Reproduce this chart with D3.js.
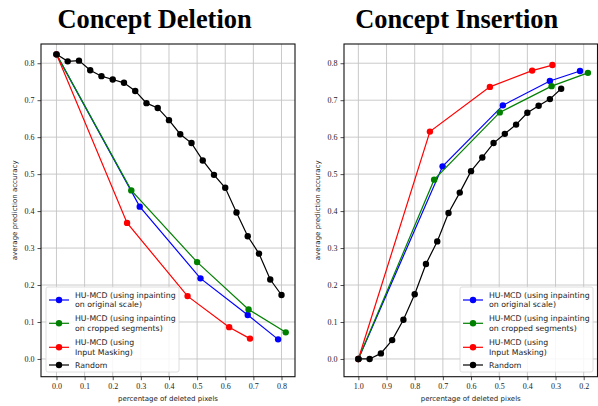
<!DOCTYPE html>
<html>
<head>
<meta charset="utf-8">
<script src="https://cdn.jsdelivr.net/npm/d3@7"></script>
<style>
  body { margin: 0; background: #fff; }
  svg { display: block; }
  .tick text { font-family: "Liberation Serif", "DejaVu Serif", serif; font-size: 8px; fill: #222; }
  .lbl { font-family: "DejaVu Sans", sans-serif; font-size: 7px; fill: #222; }
  .leg { font-family: "DejaVu Sans", sans-serif; font-size: 7.8px; fill: #222; }
  .title { font-family: "Liberation Serif", "Times New Roman", serif; font-weight: bold; font-size: 26.4px; fill: #000; }
</style>
</head>
<body>
<script>
// ---- data ----
var seriesNames = ["HU-MCD (using inpainting|on original scale)",
                   "HU-MCD (using inpainting|on cropped segments)",
                   "HU-MCD (using|Input Masking)",
                   "Random"];
var seriesColors = ["#0000ff", "#008000", "#ff0000", "#000000"];

// Concept Deletion
var delBlueX = [0, 0.296, 0.512, 0.680, 0.788];
var delBlueY = [0.824, 0.412, 0.218, 0.119, 0.053];
var delGreenX = [0, 0.266, 0.500, 0.683, 0.815];
var delGreenY = [0.824, 0.456, 0.262, 0.134, 0.072];
var delRedX = [0, 0.251, 0.466, 0.614, 0.688];
var delRedY = [0.824, 0.368, 0.170, 0.086, 0.055];
var delRandX = [0, 0.04, 0.08, 0.12, 0.16, 0.2, 0.24, 0.28, 0.32, 0.36, 0.4,
                0.44, 0.48, 0.52, 0.56, 0.6, 0.64, 0.68, 0.72, 0.76, 0.8];
var delRandY = [0.824, 0.805, 0.807, 0.781, 0.765, 0.756, 0.747, 0.725, 0.692, 0.679, 0.646,
                0.608, 0.584, 0.537, 0.498, 0.463, 0.396, 0.332, 0.285, 0.215, 0.173];

// Concept Insertion
var insBlueX = [1.0, 0.701, 0.487, 0.320, 0.213];
var insBlueY = [0.0, 0.521, 0.686, 0.752, 0.779];
var insGreenX = [1.0, 0.731, 0.498, 0.314, 0.185];
var insGreenY = [0.0, 0.485, 0.667, 0.738, 0.774];
var insRedX = [1.0, 0.746, 0.533, 0.383, 0.311];
var insRedY = [0.0, 0.615, 0.736, 0.780, 0.795];
var insRandX = [1.0, 0.96, 0.92, 0.88, 0.84, 0.8, 0.76, 0.72, 0.68, 0.64,
                0.6, 0.56, 0.52, 0.48, 0.44, 0.4, 0.36, 0.32, 0.28];
var insRandY = [0.0, 0.0, 0.015, 0.051, 0.106, 0.175, 0.257, 0.318, 0.395, 0.450,
                0.508, 0.545, 0.584, 0.609, 0.634, 0.666, 0.685, 0.703, 0.731];

var yTicks = [0.0, 0.1, 0.2, 0.3, 0.4, 0.5, 0.6, 0.7, 0.8];
var delXTicks = [0.0, 0.1, 0.2, 0.3, 0.4, 0.5, 0.6, 0.7, 0.8];
var insXTicks = [1.0, 0.9, 0.8, 0.7, 0.6, 0.5, 0.4, 0.3, 0.2];

var svg = d3.select("body").append("svg").attr("width", 598).attr("height", 406);

function zip(xs, ys) { return xs.map(function (d, i) { return [d, ys[i]]; }); }

function panel(opt) {
  var x = d3.scaleLinear().domain(opt.xdom).range([opt.left, opt.right]);
  var y = d3.scaleLinear().domain([-0.048, 0.852]).range([376.7, 44]);
  var g = svg.append("g");

  // grid
  g.selectAll("line.gx").data(opt.xticks).enter().append("line")
    .attr("x1", function (d) { return x(d); }).attr("x2", function (d) { return x(d); })
    .attr("y1", 44).attr("y2", 376.7)
    .attr("stroke", "#c4c4c4").attr("stroke-width", 0.9);
  g.selectAll("line.gy").data(yTicks).enter().append("line")
    .attr("y1", function (d) { return y(d); }).attr("y2", function (d) { return y(d); })
    .attr("x1", opt.left).attr("x2", opt.right)
    .attr("stroke", "#c4c4c4").attr("stroke-width", 0.9);

  // axes
  g.append("g").attr("transform", "translate(0,376.7)")
    .call(d3.axisBottom(x).tickValues(opt.xticks).tickFormat(d3.format(".1f")).tickSize(3.5).tickPadding(3))
    .call(function (a) { a.select(".domain").remove(); a.selectAll("line").attr("stroke", "#222").attr("stroke-width", 0.8); });
  g.append("g").attr("transform", "translate(" + opt.left + ",0)")
    .call(d3.axisLeft(y).tickValues(yTicks).tickFormat(d3.format(".1f")).tickSize(3.5).tickPadding(3))
    .call(function (a) { a.select(".domain").remove(); a.selectAll("line").attr("stroke", "#222").attr("stroke-width", 0.8); });

  g.append("rect").attr("x", opt.left).attr("y", 44)
    .attr("width", opt.right - opt.left).attr("height", 376.7 - 44)
    .attr("fill", "none").attr("stroke", "#111").attr("stroke-width", 1.1);

  var line = d3.line().x(function (d) { return x(d[0]); }).y(function (d) { return y(d[1]); });

  opt.series.forEach(function (s, i) {
    var pts = zip(s[0], s[1]);
    g.append("path").datum(pts).attr("d", line)
      .attr("fill", "none").attr("stroke", seriesColors[i]).attr("stroke-width", 1.2);
    g.selectAll("circle.s" + i).data(pts).enter().append("circle")
      .attr("cx", function (d) { return x(d[0]); })
      .attr("cy", function (d) { return y(d[1]); })
      .attr("r", 3.2).attr("fill", seriesColors[i]);
  });

  // labels
  g.append("text").attr("class", "lbl").attr("text-anchor", "middle")
    .attr("transform", "translate(" + (opt.left - 24) + "," + (44 + 376.7) / 2 + ") rotate(-90)")
    .text("average prediction accuracy");
  g.append("text").attr("class", "lbl").attr("text-anchor", "middle")
    .attr("x", (opt.left + opt.right) / 2).attr("y", 401)
    .text("percentage of deleted pixels");
  g.append("text").attr("class", "title").attr("text-anchor", "middle")
    .attr("x", opt.titleX).attr("y", 28.3).text(opt.title);

  // legend
  var lx = opt.legX, ly = 287;
  var lg = g.append("g").attr("transform", "translate(" + lx + "," + ly + ")");
  lg.append("rect").attr("width", 133).attr("height", 85).attr("rx", 2)
    .attr("fill", "#fff").attr("fill-opacity", 0.85).attr("stroke", "#d6d6d6").attr("stroke-width", 0.8);
  var rowY = [13, 36.3, 60.3, 78];
  seriesNames.forEach(function (nm, i) {
    var r = lg.append("g").attr("transform", "translate(0," + rowY[i] + ")");
    r.append("line").attr("x1", 3).attr("x2", 23).attr("stroke", seriesColors[i]).attr("stroke-width", 1.2);
    r.append("circle").attr("cx", 13).attr("r", 3.2).attr("fill", seriesColors[i]);
    var parts = nm.split("|");
    parts.forEach(function (p, j) {
      r.append("text").attr("class", "leg").attr("x", 29)
        .attr("y", parts.length === 1 ? 2.8 : (j === 0 ? -2.2 : 7.4)).text(p);
    });
  });
}

panel({
  left: 41, right: 295, xdom: [-0.055, 0.848], xticks: delXTicks,
  title: "Concept Deletion", titleX: 154.5, legX: 46,
  series: [[delBlueX, delBlueY], [delGreenX, delGreenY], [delRedX, delRedY], [delRandX, delRandY]]
});
panel({
  left: 344, right: 597.5, xdom: [1.051, 0.151], xticks: insXTicks,
  title: "Concept Insertion", titleX: 456.7, legX: 460,
  series: [[insBlueX, insBlueY], [insGreenX, insGreenY], [insRedX, insRedY], [insRandX, insRandY]]
});
</script>
</body>
</html>
